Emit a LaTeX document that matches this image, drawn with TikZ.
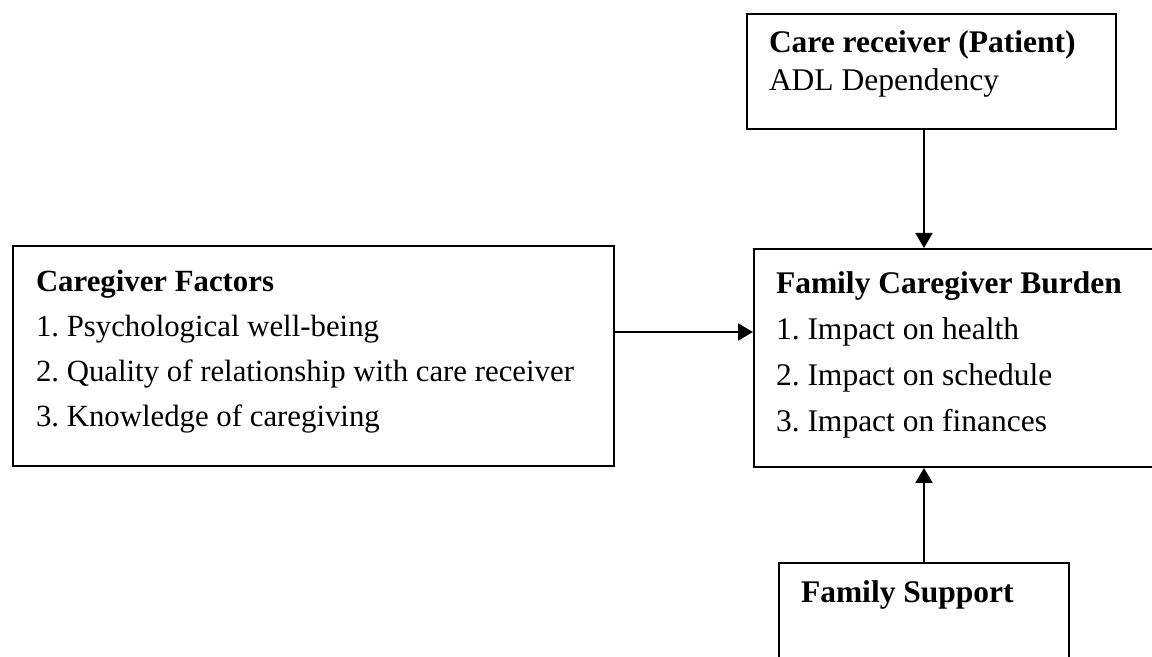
\documentclass[tikz,border=0pt]{standalone}
\usepackage{fontspec}
\setmainfont{Liberation Serif}
\usetikzlibrary{positioning, arrows.meta}
\frenchspacing

\begin{document}
\begin{tikzpicture}[x=0.5pt, y=-0.5pt, line width=1pt, >={Triangle[length=7.5pt,width=8.5pt]},
    box/.style={draw, rectangle, anchor=north west, inner sep=0pt},
    txt/.style={anchor=base west, inner sep=0pt, align=left, font=\fontsize{15.75}{22.5}\selectfont}]
    \useasboundingbox (0,0) rectangle (1152,657);
    \clip (0,0) rectangle (1152,657);
    % Boxes
    \node[box, minimum width=184.5pt, minimum height=57.5pt] (care) at (746,13) {};
    \node[box, minimum width=300.5pt, minimum height=110pt] (factors) at (12,245) {};
    \node[box, minimum width=240pt, minimum height=109pt] (burden) at (753,248) {};
    \node[box, minimum width=145pt, minimum height=80pt] (support) at (778,562) {};

    % Texts (base anchor sits on the last line)
    \node[txt, font=\fontsize{15.75}{19}\selectfont] (caretxt) at ([shift={(22,78)}]care.north west)
        {\textbf{Care receiver (Patient)}\\ADL Dependency};
    \node[txt, font=\fontsize{15.4}{22.5}\selectfont] (factorstxt) at ([shift={(23,182)}]factors.north west)
        {\textbf{Caregiver Factors}\\1. Psychological well-being\\2. Quality of relationship with care receiver\\3. Knowledge of caregiving};
    \node[txt, font=\fontsize{15.75}{23}\selectfont] (burdentxt) at ([shift={(22,184)}]burden.north west)
        {\textbf{Family Caregiver Burden}\\1. Impact on health\\2. Impact on schedule\\3. Impact on finances};
    \node[txt] (supporttxt) at ([shift={(22,41)}]support.north west) {\textbf{Family Support}};

    % Arrows
    \coordinate (mid) at (0,332);
    \draw[->] (factors.east |- mid) -- (burden.west |- mid);
    \draw[->] (care.south -| support.north) -- (burden.north -| support.north);
    \draw[->] (support.north) -- (burden.south -| support.north);
\end{tikzpicture}
\end{document}
